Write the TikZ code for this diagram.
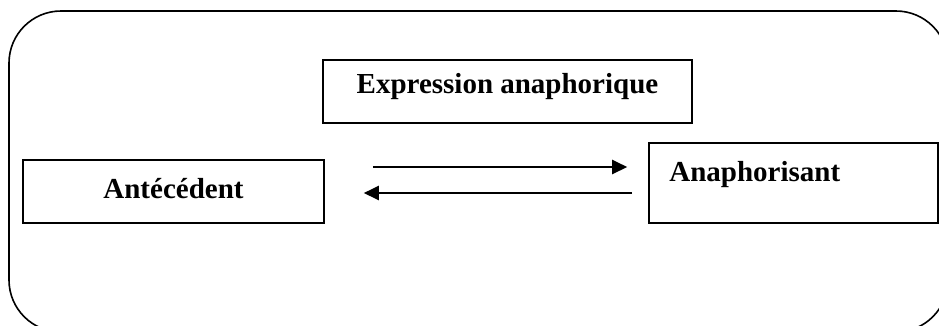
\documentclass[tikz,border=0pt]{standalone}
\usepackage{fontspec}
\setmainfont{Liberation Serif}
\usetikzlibrary{arrows.meta, calc}

\begin{document}
\begin{tikzpicture}[x=1pt, y=-1pt, >={Triangle[length=15pt,width=14pt]},
    boite/.style={draw, line width=1.6pt, inner sep=0pt},
    fleche/.style={->, line width=2.4pt},
    etiq/.style={font=\fontsize{29}{34}\selectfont\bfseries}]
  \useasboundingbox (0,0) rectangle (939,325);
  % cadre arrondi
  \draw[line width=1.6pt, rounded corners=52pt] (9,11) rectangle (948,332);
  % boites
  \node[boite, etiq, minimum width=369pt, minimum height=63pt,
        text height=20pt, text depth=17pt] (expr) at (507.5,91.5) {Expression anaphorique};
  \node[boite, etiq, minimum width=301pt, minimum height=63pt,
        text height=20pt, text depth=7pt] (antec) at (173.5,191.5) {Antécédent};
  \node[boite, minimum width=289pt, minimum height=80pt] (anaph) at (793.5,183) {};
  \node[etiq, anchor=base west, inner sep=0pt] (anaphtxt) at ($(anaph.north west)+(21,39)$) {Anaphorisant};

  % fleches
  \draw[fleche] ($(antec.east)+(48,-24.5)$) -- ($(anaph.west)+(-21,-16)$);
  \draw[fleche] ($(anaph.west)+(-16,10)$) -- ($(antec.east)+(39,1.5)$);
\end{tikzpicture}
\end{document}
